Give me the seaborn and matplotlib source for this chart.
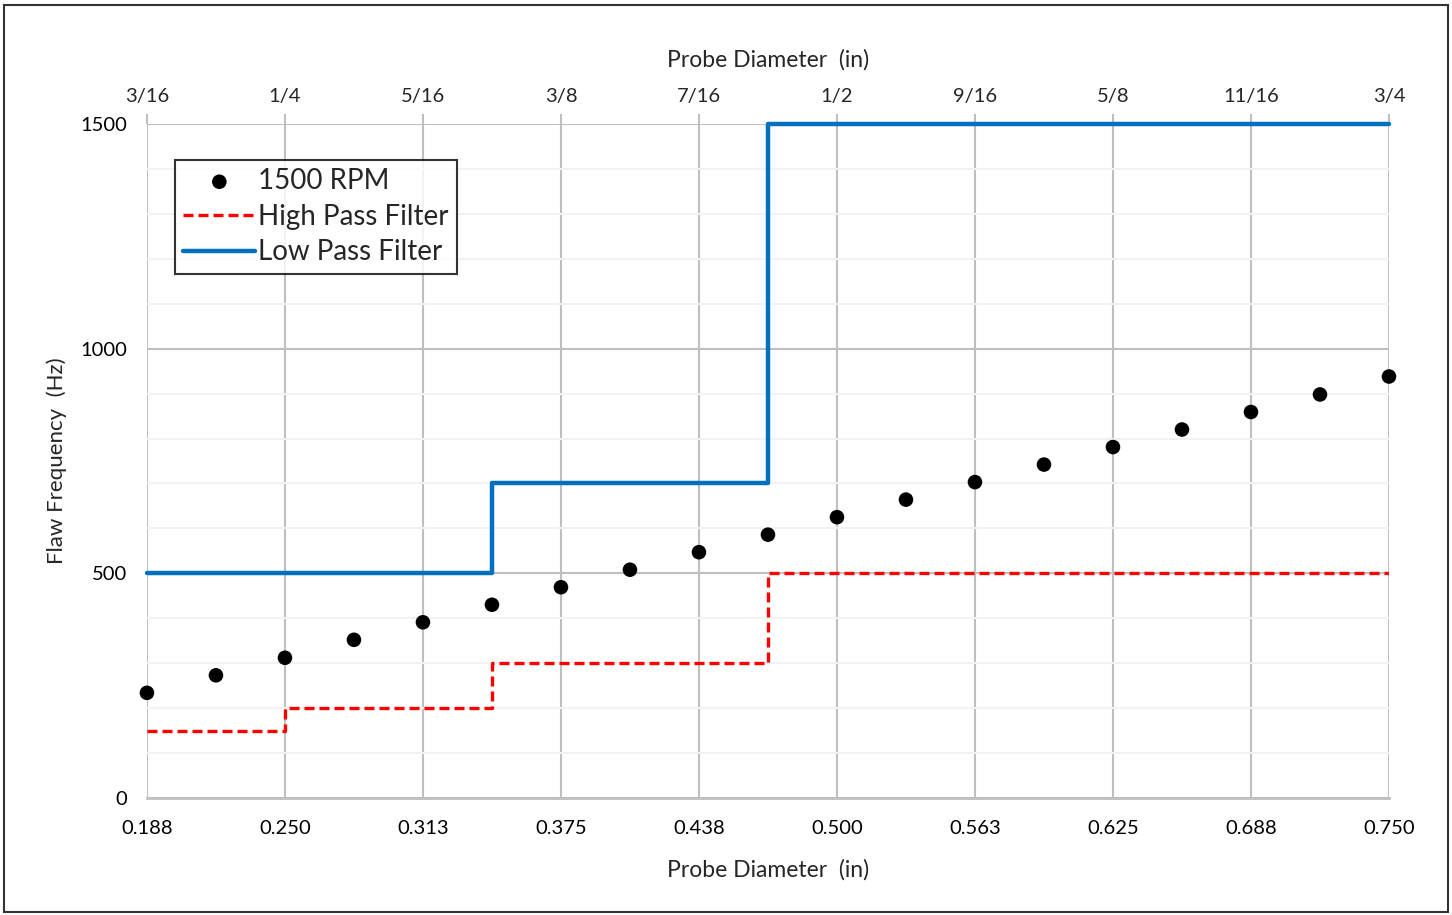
import matplotlib
matplotlib.use("Agg")
import matplotlib.pyplot as plt
import seaborn as sns
import numpy as np
import pandas as pd
from matplotlib.patches import Rectangle

# probe diameters (in) and flaw frequency
diameter = [0.1875, 0.21875, 0.25, 0.28125, 0.3125, 0.34375, 0.375, 0.40625,
            0.4375, 0.46875, 0.5, 0.53125, 0.5625, 0.59375, 0.625, 0.65625,
            0.6875, 0.71875, 0.75]
flaw_freq = [234, 273, 312, 352, 391, 430, 469, 508, 547, 586, 625, 664,
             703, 742, 781, 820, 859, 898, 938]

# filter settings (step changes)
hp_x = [0.1875, 0.25, 0.34375, 0.46875, 0.75]
hp_y = [150, 200, 300, 500, 500]
lp_x = [0.1875, 0.34375, 0.46875, 0.75]
lp_y = [500, 700, 1500, 1500]

tick_pos = [0.1875, 0.25, 0.3125, 0.375, 0.4375, 0.5, 0.5625, 0.625, 0.6875, 0.75]
dec_labels = ["0.188", "0.250", "0.313", "0.375", "0.438", "0.500", "0.563",
              "0.625", "0.688", "0.750"]
frac_labels = ["3/16", "1/4", "5/16", "3/8", "7/16", "1/2", "9/16", "5/8",
               "11/16", "3/4"]

sns.set_style("white")
plt.rcParams['font.family'] = ['Lato', 'DejaVu Sans']

fig = plt.figure(figsize=(14.52, 9.15), dpi=100)
ax = fig.add_axes([0.1012, 0.1279, 0.8554, 0.7366])

grid_c = "#BFBFBF"
minor_c = "#F2F2F2"

ax.set_xlim(0.1875, 0.75)
ax.set_ylim(0, 1500)
ax.set_yticks([0, 500, 1000, 1500])
ax.set_yticks(np.arange(0, 1501, 100), minor=True)
ax.set_xticks(tick_pos, dec_labels)
ax.grid(True, which="minor", axis="y", color=minor_c, lw=1.5, zorder=0)
ax.grid(True, which="major", axis="both", color=grid_c, lw=1.5, zorder=0)
ax.set_axisbelow(True)

lp_df = pd.DataFrame({"x": lp_x, "y": lp_y})
hp_df = pd.DataFrame({"x": hp_x, "y": hp_y})
pts = pd.DataFrame({"x": diameter, "y": flaw_freq})

sns.scatterplot(data=pts, x="x", y="y", ax=ax, color="black", s=110,
                edgecolor="none", label="1500 RPM", zorder=4, clip_on=False)
sns.lineplot(data=hp_df, x="x", y="y", ax=ax, color="#FF0000", lw=2.4,
             linestyle=(0, (3, 1.5)), drawstyle="steps-post",
             label="High Pass Filter", zorder=3)
sns.lineplot(data=lp_df, x="x", y="y", ax=ax, color="#0070C0", lw=3.2,
             drawstyle="steps-post", label="Low Pass Filter", zorder=3,
             clip_on=False)

for s in ["top", "right", "left"]:
    ax.spines[s].set_visible(False)
ax.spines["bottom"].set_color(grid_c)
ax.spines["bottom"].set_linewidth(2)

ax.tick_params(axis="x", which="major", direction="out", length=8, width=1.5,
               color=grid_c, labelsize=14.5, pad=8, labelcolor="black")
ax.tick_params(axis="y", which="major", direction="out", length=8, width=1.5,
               color=grid_c, labelsize=14.5, pad=6, labelcolor="black")
ax.tick_params(axis="y", which="minor", length=0)

ax.set_xlabel("Probe Diameter  (in)", fontsize=16.5, labelpad=16)
ax.set_ylabel("Flaw Frequency  (Hz)", fontsize=16, labelpad=10)

top = ax.secondary_xaxis("top")
top.set_xticks(tick_pos, frac_labels)
top.tick_params(direction="out", length=7, width=1.5, color=grid_c,
                labelsize=14.5, pad=7)
top.spines["top"].set_visible(False)
top.set_xlabel("Probe Diameter  (in)", fontsize=16.5, labelpad=15)

leg = ax.legend(loc="upper left", bbox_to_anchor=(0.0225, 0.947), fontsize=20,
                frameon=True, fancybox=False, edgecolor="black",
                handlelength=2.6, handletextpad=0.1, borderpad=0.3,
                labelspacing=0.35, borderaxespad=0)
leg.get_frame().set_linewidth(1.5)

fig.patches.append(Rectangle((0.003, 0.003), 0.994, 0.992, transform=fig.transFigure,
                             fill=False, edgecolor="#333333", lw=1.5))

fig.savefig("out.png", dpi=100)
